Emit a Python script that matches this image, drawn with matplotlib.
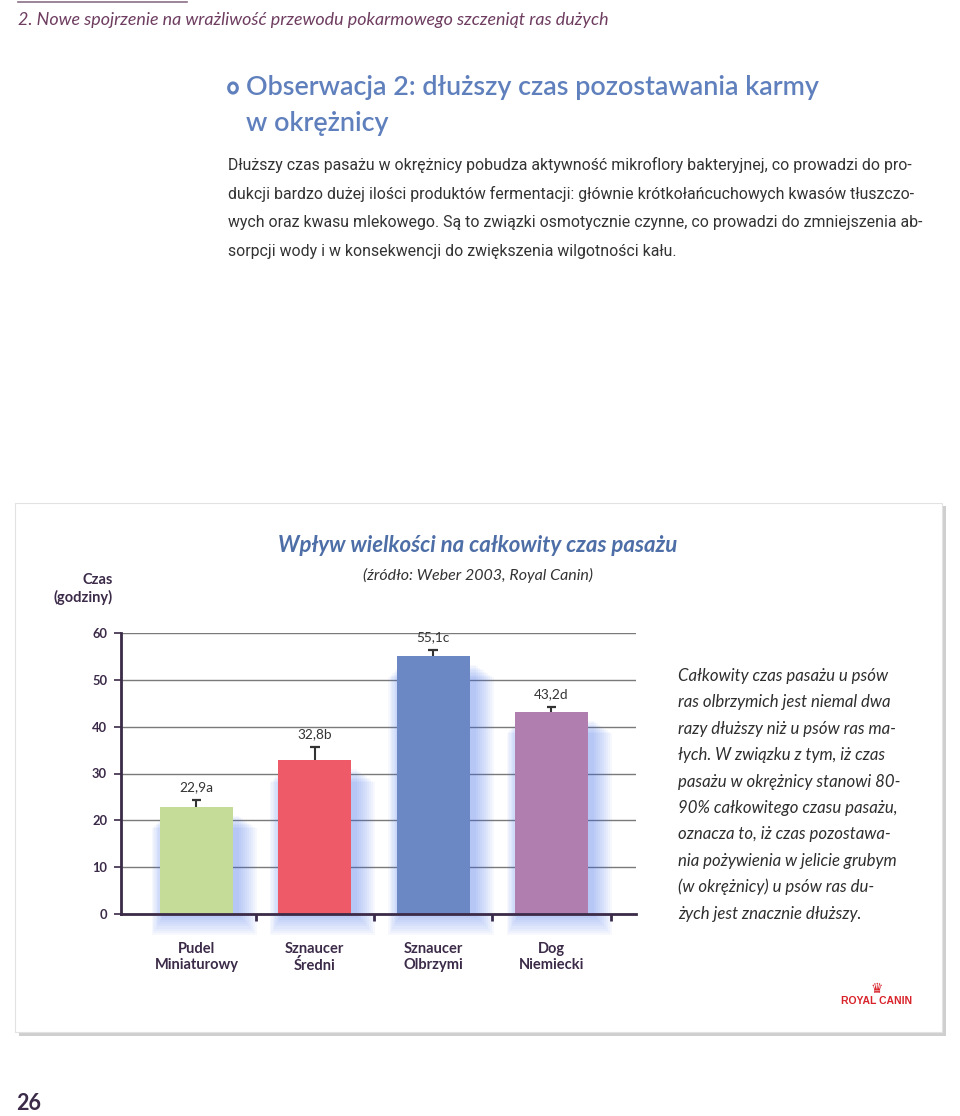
import matplotlib
matplotlib.use("Agg")
import matplotlib.pyplot as plt
from matplotlib.patches import Rectangle, Circle
from matplotlib.lines import Line2D

# ---------------- data ----------------
categories = ["Pudel\nMiniaturowy", "Sznaucer\nŚredni", "Sznaucer\nOlbrzymi", "Dog\nNiemiecki"]
values = [22.9, 32.8, 55.1, 43.2]
errors = [1.4, 2.8, 1.3, 1.0]
value_labels = ["22,9a", "32,8b", "55,1c", "43,2d"]
bar_colors = ["#c5dc98", "#ee5a68", "#6b88c4", "#b07faf"]
yticks = [0, 10, 20, 30, 40, 50, 60]

header = "2. Nowe spojrzenie na wrażliwość przewodu pokarmowego szczeniąt ras dużych"
title_lines = ["Obserwacja 2: dłuższy czas pozostawania karmy", "w okrężnicy"]
body_lines = [
    "Dłuższy czas pasażu w okrężnicy pobudza aktywność mikroflory bakteryjnej, co prowadzi do pro-",
    "dukcji bardzo dużej ilości produktów fermentacji: głównie krótkołańcuchowych kwasów tłuszczo-",
    "wych oraz kwasu mlekowego. Są to związki osmotycznie czynne, co prowadzi do zmniejszenia ab-",
    "sorpcji wody i w konsekwencji do zwiększenia wilgotności kału.",
]
chart_title = "Wpływ wielkości na całkowity czas pasażu"
chart_subtitle = "(źródło: Weber 2003, Royal Canin)"
ylabel = "Czas\n(godziny)"
side_lines = [
    "Całkowity czas pasażu u psów",
    "ras olbrzymich jest niemal dwa",
    "razy dłuższy niż u psów ras ma-",
    "łych. W związku z tym, iż czas",
    "pasażu w okrężnicy stanowi 80-",
    "90% całkowitego czasu pasażu,",
    "oznacza to, iż czas pozostawa-",
    "nia pożywienia w jelicie grubym",
    "(w okrężnicy) u psów ras du-",
    "żych jest znacznie dłuższy.",
]
page_number = "26"

W, H = 960, 1116
FONT = ["Lato", "DejaVu Sans"]
NARROW = ["Roboto", "DejaVu Sans"]
DARK = "#3b2a48"
BLUE_T = "#5f80bd"

fig = plt.figure(figsize=(W / 100, H / 100), dpi=100)
fig.patch.set_facecolor("white")


def fx(px):
    return px / W


def fy(py):
    return 1 - py / H


# header
fig.add_artist(Line2D([fx(18), fx(187)], [fy(2), fy(2)], color="#8a7088", lw=1.2))
fig.text(fx(18), fy(20), header, family=FONT, style="italic", fontsize=12.9,
         color="#6e3d60", va="center", ha="left")

# section title
fig.add_artist(Circle((fx(233), fy(88)), 0.0045, transform=fig.transFigure,
                      facecolor="white", edgecolor=BLUE_T, lw=2.2))
fig.text(fx(246), fy(88), title_lines[0], family=FONT, fontweight="semibold",
         fontsize=19.4, color=BLUE_T, va="center", ha="left")
fig.text(fx(246), fy(123), title_lines[1], family=FONT, fontweight="semibold",
         fontsize=19.4, color=BLUE_T, va="center", ha="left")

# body text (fit first line to reference width)
renderer = fig.canvas.get_renderer()
probe = fig.text(0, 0, body_lines[0], family=NARROW, fontsize=10)
wpx = probe.get_window_extent(renderer).width
probe.remove()
body_fs = 10 * 684 / wpx
for i, ln in enumerate(body_lines):
    fig.text(fx(228), fy(165 + i * 28.7), ln, family=NARROW, fontsize=body_fs,
             color="#333333", va="center", ha="left")

# chart panel with shadow
fig.add_artist(Rectangle((fx(19), fy(1036)), fx(927), fy(506) - fy(1036),
                         transform=fig.transFigure, facecolor="#cfcfcf", edgecolor="none", zorder=0))
fig.add_artist(Rectangle((fx(15), fy(1032)), fx(927), fy(503) - fy(1032),
                         transform=fig.transFigure, facecolor="white", edgecolor="#e2e2e2",
                         lw=0.8, zorder=0.5))

fig.text(fx(478), fy(546), chart_title, family=FONT, fontweight="bold", style="italic",
         fontsize=16, color="#4d6ea6", ha="center", va="center")
fig.text(fx(478), fy(575), chart_subtitle, family=FONT, style="italic",
         fontsize=11.5, color="#333333", ha="center", va="center")
fig.text(fx(113), fy(589), ylabel, family=FONT, fontweight="bold", fontsize=10.5,
         color=DARK, ha="right", va="center", linespacing=1.3)

# ---------------- bar chart ----------------
ax = fig.add_axes([fx(121), fy(914), fx(636) - fx(121), fy(633) - fy(914)])
ax.set_zorder(3)
ax.set_facecolor("none")
x = list(range(len(values)))
ax.set_xlim(-0.638, 3.715)
ax.set_ylim(0, 60)

# gridlines
for t in yticks[1:]:
    ax.axhline(t, color="#7a7a7a", lw=1.0, zorder=1)

# glow behind bars
bw = 0.617
for xi, v in zip(x, values):
    for k in range(10):
        grow = 0.02 + k * 0.028
        ax.add_patch(Rectangle((xi - bw / 2 + 0.04 - grow * 0.4, -0.4 - k * 0.45),
                               bw + grow, v - 1.5 + k * 0.15,
                               facecolor="#3f6ff0", edgecolor="none", alpha=0.045,
                               zorder=2, clip_on=False))

ax.bar(x, values, width=bw, color=bar_colors, zorder=3)
# upper-only error bars ("T" shape)
cap = 0.04
for xi, v, e in zip(x, values, errors):
    ax.vlines(xi, v, v + e, color="#333333", lw=1.5, zorder=4)
    ax.hlines(v + e, xi - cap, xi + cap, color="#333333", lw=1.6, zorder=4)
for xi, v, e, lab in zip(x, values, errors, value_labels):
    ax.annotate(lab, (xi, v + e), xytext=(0, 5), textcoords="offset points",
                ha="center", va="bottom", family=FONT, fontsize=9.8, color="#333333")

for s in ["top", "right"]:
    ax.spines[s].set_visible(False)
for s in ["left", "bottom"]:
    ax.spines[s].set_color(DARK)
    ax.spines[s].set_linewidth(2.0)
    ax.spines[s].set_zorder(5)

ax.set_yticks(yticks)
ax.set_yticklabels([str(t) for t in yticks], family=FONT, fontweight="bold",
                   fontsize=9.3, color=DARK)
ax.tick_params(axis="y", length=5, width=1.2, color=DARK, pad=5)

ax.set_xticks(x)
ax.set_xticklabels(categories, family=FONT, fontweight="bold", fontsize=10.5, color=DARK,
                   linespacing=1.2)
ax.tick_params(axis="x", which="major", length=0, pad=20)
ax.set_xticks([0.5, 1.5, 2.5, 3.5], minor=True)
ax.tick_params(axis="x", which="minor", length=5, width=2, color=DARK, direction="out")

# side text
for i, ln in enumerate(side_lines):
    fig.text(fx(678), fy(676 + i * 26.4), ln, family=FONT, style="italic", fontsize=12.1,
             color="#2e2e2e", ha="left", va="center")

# logo
fig.text(fx(877), fy(1001), "ROYAL CANIN", family=["Liberation Sans", "DejaVu Sans"],
         fontweight="bold", fontsize=7.5, color="#d8232a", ha="center", va="center")
fig.text(fx(877), fy(989), "♛", family=["DejaVu Sans"], fontsize=10, color="#d8232a",
         ha="center", va="center")

# page number
fig.text(fx(16), fy(1103), page_number, family=FONT, fontweight="bold", fontsize=15.5,
         color=DARK, ha="left", va="center")

fig.savefig("out.png", dpi=100, facecolor="white")
